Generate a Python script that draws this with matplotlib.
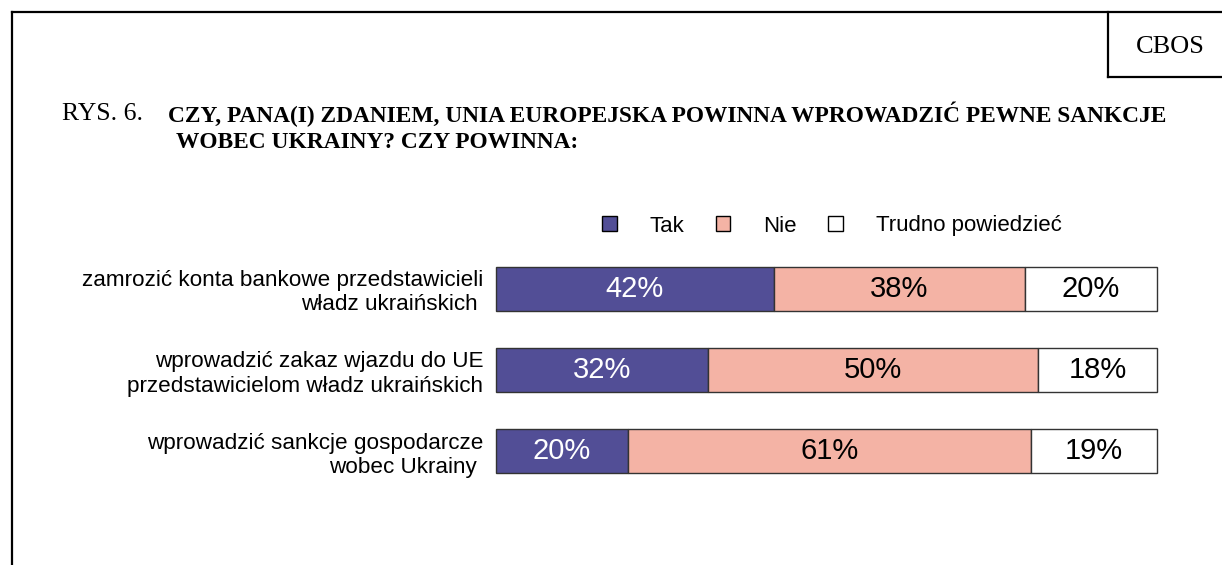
import matplotlib.pyplot as plt
from matplotlib.lines import Line2D
from matplotlib.patches import Patch

categories = ['zamrozić konta bankowe przedstawicieli\nwładz ukraińskich ',
              'wprowadzić zakaz wjazdu do UE\nprzedstawicielom władz ukraińskich',
              'wprowadzić sankcje gospodarcze\nwobec Ukrainy ']
series_names = ['Tak', 'Nie', 'Trudno powiedzieć']
tak = [42, 32, 20]
nie = [38, 50, 61]
trudno = [20, 18, 19]

colors = ['#524e96', '#f4b3a5', '#ffffff']
text_colors = ['white', 'black', 'black']

W, H = 1222, 565
fig = plt.figure(figsize=(W / 100, H / 100), dpi=100)

# frame lines (page-like border)
def fl(x0, y0, x1, y1):
    fig.add_artist(Line2D([x0 / W, x1 / W], [1 - y0 / H, 1 - y1 / H],
                          transform=fig.transFigure, color='black', lw=1.6))

fl(12, 12, W, 12)
fl(12, 12, 12, H)
fl(1108, 12, 1108, 77)
fl(1108, 77, W, 77)

fig.text(1170 / W, 1 - 47 / H, 'CBOS', family='Liberation Serif', fontsize=19,
         ha='center', va='center')
fig.text(62 / W, 1 - 114 / H, 'RYS. 6.', family='Liberation Serif', fontsize=18.5,
         ha='left', va='center')
fig.text(168 / W, 1 - 114 / H,
         'CZY, PANA(I) ZDANIEM, UNIA EUROPEJSKA POWINNA WPROWADZIĆ PEWNE SANKCJE',
         family='Liberation Serif', fontsize=16.8, fontweight='bold', ha='left', va='center')
fig.text(176 / W, 1 - 143 / H, 'WOBEC UKRAINY? CZY POWINNA:',
         family='Liberation Serif', fontsize=16.8, fontweight='bold', ha='left', va='center')

ax = fig.add_axes([496 / W, 1 - 495 / H, (1157 - 496) / W, 250 / H])
y = list(range(len(categories)))
left = [0] * len(categories)
for vals, col, tc in zip([tak, nie, trudno], colors, text_colors):
    ax.barh(y, vals, left=left, height=0.54, color=col, edgecolor='#333333', lw=1,
            clip_on=False)
    for yi, v, l in zip(y, vals, left):
        ax.text(l + v / 2, yi, f'{v}%', ha='center', va='center', color=tc,
                family='Liberation Sans', fontsize=21)
    left = [l + v for l, v in zip(left, vals)]

ax.set_xlim(0, 100)
ax.set_ylim(2.5 + 0.035, -0.5 - 0.035)
ax.axis('off')

for yi, lab in zip(y, categories):
    ax.text(-1.9, yi + 0.05, lab, ha='right', va='center', family='Liberation Sans',
            fontsize=16.2, linespacing=1.2, transform=ax.transData, clip_on=False)

handles = [Patch(facecolor=c, edgecolor='black', lw=1) for c in colors]
fig.legend(handles, series_names, loc='center', bbox_to_anchor=(832 / W, 1 - 226 / H),
           ncol=3, frameon=False, prop={'family': 'Liberation Sans', 'size': 16},
           handlelength=0.65, handleheight=0.65, handletextpad=1.5, columnspacing=1.4)

fig.savefig('out.png', dpi=100)
